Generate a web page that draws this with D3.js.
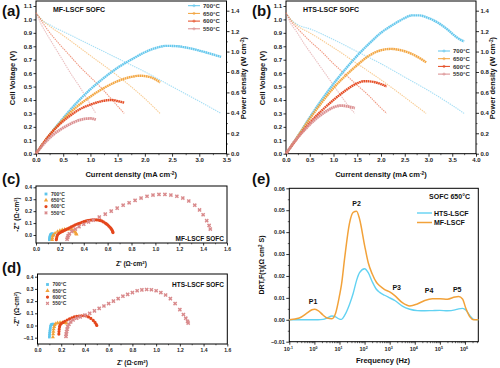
<!DOCTYPE html>
<html><head><meta charset="utf-8">
<script src="https://cdn.jsdelivr.net/npm/d3@7/dist/d3.min.js"></script>
<style>body{margin:0;background:#fff}svg{display:block}text{font-family:Arial,"Liberation Sans",sans-serif}</style>
</head><body><svg id="c" width="500" height="368"></svg>
<script>
// ---------- shared ----------
const temps = ["700°C","650°C","600°C","550°C"];
const colors = ["#5ec5ec","#f2a23a","#e4461c","#d98a8c"];

// ---------- panel a : MF-LSCF  (current density, cell voltage) ----------
const aV700 = [[0,1.05],[0.1,1.0],[0.3,0.95],[0.6,0.89],[1.0,0.81],[1.5,0.71],[2.0,0.61],[2.5,0.50],[3.0,0.39],[3.4,0.30]];
const aV650 = [[0,1.05],[0.1,1.0],[0.25,0.95],[0.5,0.88],[1.0,0.73],[1.5,0.58],[2.0,0.41],[2.28,0.30]];
const aV600 = [[0,1.05],[0.1,0.99],[0.2,0.93],[0.4,0.83],[0.6,0.74],[0.8,0.65],[1.0,0.57],[1.2,0.49],[1.4,0.40],[1.62,0.30]];
const aV550 = [[0,1.05],[0.1,0.96],[0.2,0.89],[0.35,0.79],[0.5,0.69],[0.65,0.59],[0.8,0.50],[0.95,0.40],[1.1,0.30]];
// (current density, power density W/cm2)
const aP700 = [[0,0],[0.25,0.184],[0.5,0.348],[0.75,0.5],[1.0,0.631],[1.25,0.743],[1.5,0.842],[1.75,0.921],[2.0,0.993],[2.2,1.035],[2.4,1.056],[2.6,1.052],[2.8,1.035],[3.0,1.009],[3.2,0.98],[3.4,0.947]];
const aP650 = [[0,0],[0.25,0.184],[0.5,0.335],[0.75,0.46],[1.0,0.559],[1.25,0.644],[1.5,0.71],[1.75,0.752],[1.9,0.763],[2.05,0.756],[2.2,0.726],[2.28,0.697]];
const aP600 = [[0,0],[0.2,0.151],[0.4,0.27],[0.6,0.362],[0.8,0.434],[1.0,0.48],[1.2,0.513],[1.3,0.523],[1.4,0.526],[1.5,0.515],[1.62,0.5]];
const aP550 = [[0,0],[0.15,0.099],[0.3,0.178],[0.45,0.237],[0.6,0.283],[0.75,0.32],[0.9,0.342],[1.0,0.345],[1.1,0.335]];

// ---------- panel b : HTS-LSCF ----------
const bV700 = [[0,1.05],[0.1,1.0],[0.25,0.96],[0.5,0.93],[1.0,0.85],[1.5,0.76],[2.0,0.67],[2.5,0.57],[3.0,0.47],[3.5,0.36],[3.75,0.30]];
const bV650 = [[0,1.05],[0.1,1.0],[0.25,0.95],[0.5,0.90],[1.0,0.79],[1.5,0.67],[2.0,0.55],[2.5,0.42],[2.95,0.30]];
const bV600 = [[0,1.05],[0.1,0.99],[0.25,0.93],[0.5,0.84],[0.75,0.76],[1.0,0.67],[1.25,0.59],[1.5,0.51],[1.75,0.43],[2.0,0.34],[2.12,0.30]];
const bV550 = [[0,1.05],[0.1,0.97],[0.2,0.92],[0.4,0.81],[0.6,0.71],[0.8,0.61],[1.0,0.51],[1.2,0.41],[1.35,0.34],[1.45,0.30]];
const bP700 = [[0,0],[0.25,0.171],[0.5,0.355],[0.75,0.526],[1.0,0.684],[1.25,0.828],[1.5,0.96],[1.75,1.078],[2.0,1.184],[2.25,1.262],[2.5,1.328],[2.65,1.354],[2.8,1.354],[3.0,1.328],[3.2,1.282],[3.4,1.216],[3.6,1.137],[3.75,1.098]];
const bP650 = [[0,0],[0.25,0.171],[0.5,0.342],[0.75,0.5],[1.0,0.644],[1.25,0.763],[1.5,0.868],[1.75,0.96],[2.0,1.013],[2.2,1.026],[2.4,1.015],[2.6,0.986],[2.8,0.94],[2.95,0.894]];
const bP600 = [[0,0],[0.25,0.158],[0.5,0.302],[0.75,0.421],[1.0,0.526],[1.25,0.618],[1.5,0.69],[1.65,0.71],[1.8,0.706],[2.0,0.681],[2.12,0.658]];
const bP550 = [[0,0],[0.2,0.132],[0.4,0.237],[0.6,0.329],[0.8,0.401],[1.0,0.454],[1.15,0.471],[1.3,0.463],[1.45,0.447]];

const aXTicks = [0,0.5,1,1.5,2,2.5,3,3.5];
const bXTicks = [0,0.5,1,1.5,2,2.5,3,3.5,4];
const vTicks = [0,0.1,0.2,0.3,0.4,0.5,0.6,0.7,0.8,0.9,1.0,1.1];
const pTicks = [0,0.2,0.4,0.6,0.8,1.0,1.2,1.4];

// ---------- panel c : MF-LSCF EIS (Z', -Z'') ----------
const c700 = [[0.112,-0.04],[0.113,-0.03],[0.115,-0.02],[0.117,-0.01],[0.12,0.0],[0.125,0.006],[0.13,0.009],[0.135,0.01],[0.14,0.009],[0.145,0.006],[0.15,0.002]];
const c650 = [[0.135,-0.04],[0.137,-0.025],[0.14,-0.01],[0.145,0.0],[0.16,0.015],[0.18,0.028],[0.2,0.037],[0.22,0.043],[0.24,0.047],[0.26,0.049],[0.28,0.048],[0.30,0.045],[0.31,0.04],[0.32,0.032],[0.33,0.022],[0.335,0.012],[0.34,0.005]];
const c600 = [[0.17,-0.04],[0.172,-0.03],[0.175,-0.015],[0.18,0.0],[0.19,0.012],[0.2,0.019],[0.21,0.025],[0.22,0.03],[0.23,0.035],[0.24,0.04],[0.25,0.045],[0.265,0.052],[0.28,0.06],[0.295,0.068],[0.31,0.075],[0.325,0.083],[0.34,0.09],[0.355,0.095],[0.37,0.10],[0.385,0.106],[0.40,0.112],[0.415,0.116],[0.43,0.12],[0.445,0.123],[0.46,0.126],[0.475,0.127],[0.49,0.128],[0.505,0.127],[0.52,0.126],[0.535,0.122],[0.55,0.118],[0.565,0.11],[0.58,0.10],[0.59,0.093],[0.60,0.085],[0.61,0.075],[0.62,0.065],[0.628,0.055],[0.635,0.045],[0.64,0.035],[0.643,0.027],[0.645,0.02]];
const c550 = [[0.26,-0.035],[0.265,-0.02],[0.27,-0.005],[0.28,0.01],[0.30,0.03],[0.33,0.05],[0.36,0.07],[0.40,0.09],[0.44,0.11],[0.48,0.125],[0.53,0.15],[0.58,0.175],[0.63,0.2],[0.68,0.225],[0.73,0.25],[0.78,0.27],[0.83,0.29],[0.88,0.31],[0.93,0.325],[0.98,0.335],[1.03,0.34],[1.08,0.34],[1.13,0.335],[1.18,0.325],[1.23,0.31],[1.28,0.285],[1.33,0.25],[1.37,0.21],[1.40,0.17],[1.43,0.12],[1.45,0.08],[1.46,0.05]];

// ---------- panel d : HTS-LSCF EIS ----------
const d700 = [[0.10,-0.095],[0.101,-0.08],[0.102,-0.065],[0.104,-0.05],[0.106,-0.035],[0.108,-0.02],[0.11,-0.005],[0.115,0.005],[0.12,0.01],[0.13,0.012],[0.14,0.01],[0.145,0.005]];
const d650 = [[0.13,-0.095],[0.132,-0.07],[0.134,-0.05],[0.136,-0.03],[0.14,-0.01],[0.145,0.005],[0.155,0.015],[0.17,0.022],[0.19,0.025],[0.21,0.025],[0.23,0.022],[0.245,0.018]];
const d600 = [[0.18,-0.07],[0.181,-0.05],[0.183,-0.03],[0.186,-0.01],[0.19,0.005],[0.20,0.015],[0.215,0.025],[0.23,0.035],[0.25,0.045],[0.27,0.055],[0.29,0.063],[0.31,0.07],[0.33,0.075],[0.35,0.078],[0.37,0.08],[0.39,0.08],[0.41,0.078],[0.43,0.07],[0.45,0.058],[0.47,0.042],[0.485,0.025],[0.495,0.01],[0.5,0.0]];
const d550 = [[0.24,-0.09],[0.242,-0.07],[0.245,-0.05],[0.25,-0.03],[0.255,-0.01],[0.265,0.01],[0.28,0.03],[0.30,0.045],[0.33,0.06],[0.36,0.07],[0.40,0.085],[0.44,0.1],[0.48,0.12],[0.52,0.14],[0.56,0.16],[0.60,0.18],[0.64,0.2],[0.68,0.22],[0.72,0.24],[0.76,0.255],[0.80,0.27],[0.84,0.285],[0.88,0.292],[0.92,0.295],[0.96,0.293],[1.00,0.285],[1.04,0.27],[1.08,0.25],[1.12,0.22],[1.16,0.18],[1.20,0.13],[1.23,0.09],[1.25,0.06],[1.265,0.035],[1.27,0.02]];

const zTicks = [0,0.2,0.4,0.6,0.8,1.0,1.2,1.4,1.6];
const cYTicks = [0,0.1,0.2,0.3,0.4];
const dYTicks = [-0.1,0,0.1,0.2,0.3,0.4];

// ---------- panel e : DRT ----------
const freqHz = [0.1,0.25,0.5,0.8,1,1.4,2.2,3.2,5,7,10,12,16,25,35,48,63,100,140,200,300,400,630,1000,1600,3200,6300,12600,25000,50000,1e5,2e5,4e5,5.6e5,8e5,1.1e6,1.6e6,2.2e6,3.4e6];
const drtMF  = [0,0.0008,0.003,0.0046,0.0048,0.0042,0.0022,0.0008,0.0005,0.003,0.011,0.016,0.028,0.044,0.049,0.0495,0.046,0.034,0.026,0.021,0.017,0.0155,0.0138,0.0127,0.011,0.0078,0.0063,0.0072,0.0088,0.0096,0.0096,0.0094,0.0104,0.0106,0.0095,0.005,0.0012,0,0];
const drtHTS = [0,0,0,0,0,0,0.0002,0.0008,0.0017,0.0013,0.0003,0.0002,0.002,0.007,0.012,0.018,0.0215,0.0233,0.0215,0.0175,0.0138,0.0125,0.0112,0.0100,0.0088,0.0062,0.0048,0.0042,0.0041,0.0042,0.0043,0.0041,0.0045,0.005,0.0052,0.0044,0.0018,0.0002,0];
const eXTicks = [0.1,1,10,100,1000,1e4,1e5,1e6];
const eXExp = ["-1","0","1","2","3","4","5","6"];
const eYTicks = [-0.01,0,0.01,0.02,0.03,0.04,0.05,0.06];
const peakNames = ["P1","P2","P3","P4","P5"];
const peakFreq  = [0.88,48,1900,37000,490000];
const peakVal   = [0.0072,0.0517,0.0136,0.012,0.0129];

// ================== drawing ==================
const svg = d3.select("#c");
const SANS = 'Arial,"Liberation Sans",sans-serif';
const SERIF = '"Times New Roman","Liberation Serif",serif';

function frame(x0,x1,y0,y1){
  svg.append("rect").attr("x",x0).attr("y",y0).attr("width",x1-x0).attr("height",y1-y0)
    .attr("fill","none").attr("stroke","#000").attr("stroke-width",1);
}
function axis(gen, tx, ty, fs, font){
  const g = svg.append("g").attr("transform",`translate(${tx},${ty})`).call(gen);
  g.select(".domain").remove();
  g.selectAll("line").attr("stroke","#000").attr("stroke-width",0.8);
  g.selectAll("text").attr("font-size",fs).attr("font-weight","bold").attr("font-family",font).attr("fill","#222");
  return g;
}
function minor(gen, tx, ty){
  const g = svg.append("g").attr("transform",`translate(${tx},${ty})`).call(gen.tickFormat(""));
  g.select(".domain").remove();
  g.selectAll("line").attr("stroke","#000").attr("stroke-width",0.6);
}
function label(x,y,txt,fs,opts={}){
  const t = svg.append("text").attr("x",x).attr("y",y).attr("font-size",fs)
    .attr("font-weight",opts.weight||"bold").attr("font-family",opts.font||SANS)
    .attr("fill",opts.fill||"#111").attr("text-anchor",opts.anchor||"start");
  if(opts.rot) t.attr("transform",`rotate(${opts.rot},${x},${y})`);
  if(Array.isArray(txt)){
    txt.forEach(p=>{ const s=t.append("tspan").text(p.t); if(p.sup) s.attr("baseline-shift","super").attr("font-size",fs*0.65); });
  } else t.text(txt);
  return t;
}
const f1 = d3.format(".1f"), f2 = d3.format(".2f");

// ---------- panels a & b ----------
function ivPanel(x, yV, yP, xTicks, Vs, Ps, title, titleX, legX, legY){
  const [x0,x1] = x.range(); const yb = yV(0), yt = 1;
  frame(x0,x1,yt,yb);
  const lineV = d3.line().x(d=>x(d[0])).y(d=>yV(d[1])).curve(d3.curveMonotoneX);
  const lineP = d3.line().x(d=>x(d[0])).y(d=>yP(d[1])).curve(d3.curveMonotoneX);
  Vs.forEach((s,i)=>{
    svg.append("path").attr("d",lineV(s)).attr("fill","none").attr("stroke",colors[i])
      .attr("stroke-width",1.1).attr("stroke-opacity",0.55).attr("stroke-dasharray","1.4,0.9");
  });
  Ps.forEach((s,i)=>{
    svg.append("path").attr("d",lineP(s)).attr("fill","none").attr("stroke",colors[i])
      .attr("stroke-width",i===3?2.8:2.4).attr("stroke-opacity",0.95).attr("stroke-dasharray","1.7,0.45");
  });
  axis(d3.axisBottom(x).tickValues(xTicks).tickFormat(f1).tickSize(3).tickPadding(1.5),0,yb,6,SANS);
  minor(d3.axisBottom(x).tickValues(xTicks.slice(0,-1).map((d,i)=>(d+xTicks[i+1])/2)).tickSize(1.5),0,yb);
  axis(d3.axisLeft(yV).tickValues(vTicks).tickFormat(f1).tickSize(2.5).tickPadding(1.5),x0,0,6,SANS);
  axis(d3.axisRight(yP).tickValues(pTicks).tickFormat(f1).tickSize(3).tickPadding(1.5),x1,0,6,SANS);
  minor(d3.axisRight(yP).tickValues(pTicks.slice(0,-1).map((d,i)=>(d+pTicks[i+1])/2)).tickSize(1.5),x1,0);
  label(titleX,12,title,7);
  label((x0+x1)/2,177,[{t:"Current density (mA cm"},{t:"-2",sup:true},{t:")"}],7.5,{anchor:"middle"});
  label(x0-21,78,"Cell Voltage (V)",7.5,{anchor:"middle",rot:-90});
  label(x1+19,78,[{t:"Power density (W cm"},{t:"-2",sup:true},{t:")"}],7.5,{anchor:"middle",rot:-90});
  temps.forEach((t,i)=>{
    const yy = legY + i*7.7;
    svg.append("line").attr("x1",legX).attr("x2",legX+12).attr("y1",yy).attr("y2",yy)
      .attr("stroke",colors[i]).attr("stroke-width",1);
    svg.append("circle").attr("cx",legX+6).attr("cy",yy).attr("r",1.1).attr("fill","none").attr("stroke",colors[i]).attr("stroke-width",0.6);
    label(legX+15,yy+2.1,t,6,{fill:"#333"});
  });
}
const yVa = d3.scaleLinear([0,1.1],[153.7,6]);
const yPa = d3.scaleLinear([0,1.4],[153.7,10.7]);
ivPanel(d3.scaleLinear([0,3.5],[36,226.5]), yVa, yPa, aXTicks,
  [aV700,aV650,aV600,aV550],[aP700,aP650,aP600,aP550],"MF-LSCF SOFC",53,188,5.7);
ivPanel(d3.scaleLinear([0,4],[286,476]), yVa, yPa, bXTicks,
  [bV700,bV650,bV600,bV550],[bP700,bP650,bP600,bP550],"HTS-LSCF SOFC",303,438,51);

// ---------- panels c & d ----------
const symbols = [d3.symbolSquare,d3.symbolTriangle,d3.symbolCircle,d3.symbolCross];
function eisPanel(x, y, yTicks, series, yTop, yBot, tag, tagX, tagY, legY, titleY){
  const [x0,x1] = x.range();
  frame(x0,x1,yTop,yBot);
  series.forEach((s,i)=>{
    svg.append("g").selectAll("path").data(s).join("path")
      .attr("transform",d=>`translate(${x(d[0])},${y(d[1])})${i===3?" rotate(45)":""}`)
      .attr("d",d3.symbol().type(symbols[i]).size(i===3?11:(i===2?8:7)))
      .attr("fill",colors[i]).attr("fill-opacity",1);
  });
  axis(d3.axisBottom(x).tickValues(zTicks).tickFormat(f1).tickSize(2.5).tickPadding(1.5),0,yBot,5,SERIF);
  minor(d3.axisBottom(x).tickValues(zTicks.slice(0,-1).map((d,i)=>(d+zTicks[i+1])/2)).tickSize(1.3),0,yBot);
  axis(d3.axisLeft(y).tickValues(yTicks).tickFormat(f1).tickSize(2.5).tickPadding(1.5),x0,0,5,SERIF);
  label(tagX,tagY,tag,6.5,{anchor:"end"});
  label((x0+x1)/2,titleY,[{t:"Z' (Ω·cm"},{t:"2",sup:true},{t:")"}],6.5,{anchor:"middle"});
  label(19,(yTop+yBot)/2,[{t:"-Z'' (Ω·cm"},{t:"2",sup:true},{t:")"}],6.5,{anchor:"middle",rot:-90});
  temps.forEach((t,i)=>{
    const yy = legY + i*6.3;
    svg.append("path").attr("transform",`translate(${x0+10},${yy})${i===3?" rotate(45)":""}`)
      .attr("d",d3.symbol().type(symbols[i]).size(8)).attr("fill",colors[i]);
    label(x0+15,yy+1.8,t,5,{font:SERIF,fill:"#333"});
  });
}
eisPanel(d3.scaleLinear([0,1.6],[36,227]), d3.scaleLinear([0,0.4],[235,187.3]), cYTicks,
  [c700,c650,c600,c550],186,243,"MF-LSCF SOFC",224,241,194,266);
eisPanel(d3.scaleLinear([0,1.6],[37.5,227.3]), d3.scaleLinear([-0.1,0.4],[337.7,276.7]), dYTicks,
  [d700,d650,d600,d550],274,344,"HTS-LSCF SOFC",224,287,284.5,365);

// ---------- panel e ----------
(function(){
  const x = d3.scaleLog([0.1,3.4e6],[289.3,478.3]);
  const y = d3.scaleLinear([-0.01,0.06],[341.7,188.3]);
  frame(289.3,478.3,188.3,341.7);
  const line = d3.line().x((d,i)=>x(freqHz[i])).y(d=>y(d)).curve(d3.curveMonotoneX);
  svg.append("path").attr("d",line(drtHTS)).attr("fill","none").attr("stroke","#62d2f2").attr("stroke-width",1.4);
  svg.append("path").attr("d",line(drtMF)).attr("fill","none").attr("stroke","#f2a23a").attr("stroke-width",1.5);
  axis(d3.axisBottom(x).tickValues(eXTicks).tickFormat("").tickSize(3),0,341.7,6,SANS);
  eXTicks.forEach((v,i)=>{
    label(x(v)-1,351,[{t:"10"},{t:eXExp[i],sup:true}],5.5,{anchor:"middle",fill:"#222"});
  });
  const minorF = [];
  eXTicks.forEach(v=>{ for(let k=2;k<=9;k++){ if(v*k<3.4e6) minorF.push(v*k);} });
  minor(d3.axisBottom(x).tickValues(minorF).tickSize(1.5),0,341.7);
  axis(d3.axisLeft(y).tickValues(eYTicks).tickFormat(f2).tickSize(3).tickPadding(1.5),289.3,0,5.5,SANS);
  minor(d3.axisLeft(y).tickValues(eYTicks.slice(0,-1).map((d,i)=>(d+eYTicks[i+1])/2)).tickSize(1.5),289.3,0);
  label(383,363,"Frequency (Hz)",7.5,{anchor:"middle"});
  label(264,265,[{t:"DRT,F(τ)(Ω cm"},{t:"2",sup:true},{t:" S)"}],7,{anchor:"middle",rot:-90});
  label(470,199,"SOFC 650°C",7,{anchor:"end"});
  svg.append("line").attr("x1",417).attr("x2",432).attr("y1",213).attr("y2",213).attr("stroke","#62d2f2").attr("stroke-width",1.4);
  svg.append("line").attr("x1",417).attr("x2",432).attr("y1",222.5).attr("y2",222.5).attr("stroke","#f2a23a").attr("stroke-width",1.5);
  label(434,215.5,"HTS-LSCF",7);
  label(434,225,"MF-LSCF",7);
  peakNames.forEach((p,i)=> label(x(peakFreq[i]),y(peakVal[i]),p,7,{anchor:"middle"}));
})();

// panel tags
label(2,16,"(a)",15);
label(252,16,"(b)",15);
label(2,184,"(c)",15);
label(2,273,"(d)",15);
label(252,184,"(e)",15);
</script></body></html>
